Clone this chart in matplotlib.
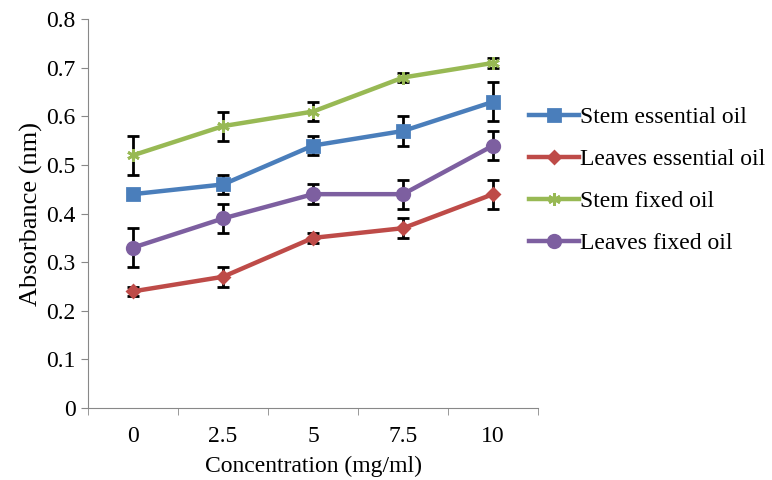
import numpy as np
import matplotlib.pyplot as plt

plt.rcParams['font.family'] = ['Liberation Serif', 'DejaVu Serif']

# 数据
conc = ['0', '2.5', '5', '7.5', '10']
stem_ess = [0.44, 0.46, 0.54, 0.57, 0.63]
stem_ess_err = [0.005, 0.02, 0.02, 0.03, 0.04]
leaves_ess = [0.24, 0.27, 0.35, 0.37, 0.44]
leaves_ess_err = [0.01, 0.02, 0.01, 0.02, 0.03]
stem_fix = [0.52, 0.58, 0.61, 0.68, 0.71]
stem_fix_err = [0.04, 0.03, 0.02, 0.01, 0.01]
leaves_fix = [0.33, 0.39, 0.44, 0.44, 0.54]
leaves_fix_err = [0.04, 0.03, 0.02, 0.03, 0.03]

fig = plt.figure(figsize=(7.72, 4.8), dpi=100)
ax = fig.add_axes([0.114, 0.15, 0.583, 0.81])

x = np.arange(len(conc))
series = [
    (stem_ess, stem_ess_err, 'Stem essential oil', '#4a7ebb', 's', 9),
    (leaves_ess, leaves_ess_err, 'Leaves essential oil', '#be4b48', 'D', 6),
    (stem_fix, stem_fix_err, 'Stem fixed oil', '#98b954', (6, 2, 0), 9),
    (leaves_fix, leaves_fix_err, 'Leaves fixed oil', '#7d5fa0', 'o', 9),
]
handles = []
for vals, err, label, col, mk, ms in series:
    ax.errorbar(x, vals, yerr=err, fmt='none', ecolor='black', elinewidth=2,
                capsize=4.5, capthick=2, zorder=2)
    h, = ax.plot(x, vals, color=col, lw=3.2, marker=mk, ms=ms, mew=2,
                 mec=col, mfc=col, label=label, zorder=3)
    handles.append(h)

ax.set_xlim(-0.5, 4.5)
ax.set_ylim(0, 0.8)
ax.set_xticks(x)
ax.set_xticklabels(conc)
ax.set_xticks(np.arange(-0.5, 5, 1), minor=True)
ax.tick_params(axis='x', which='major', length=0, labelsize=17, pad=13)
ax.tick_params(axis='x', which='minor', length=5, color='#888888', direction='out')
ax.set_yticks(np.arange(0, 0.81, 0.1))
ax.set_yticklabels([f'{v:.1f}' if v > 0 else '0' for v in np.arange(0, 0.81, 0.1)])
ax.tick_params(axis='y', length=5, color='#888888', labelsize=17, pad=4)
for s in ['top', 'right']:
    ax.spines[s].set_visible(False)
for s in ['left', 'bottom']:
    ax.spines[s].set_color('#888888')

ax.set_xlabel('Concentration (mg/ml)', fontsize=17, labelpad=6)
ax.set_ylabel('Absorbance (nm)', fontsize=19, labelpad=2)

fig.legend(handles=handles, loc='upper left', bbox_to_anchor=(0.673, 0.797),
           frameon=False, fontsize=17, handlelength=2.1, handletextpad=0.05,
           labelspacing=0.86, borderaxespad=0)

fig.savefig('out.png', dpi=100)
